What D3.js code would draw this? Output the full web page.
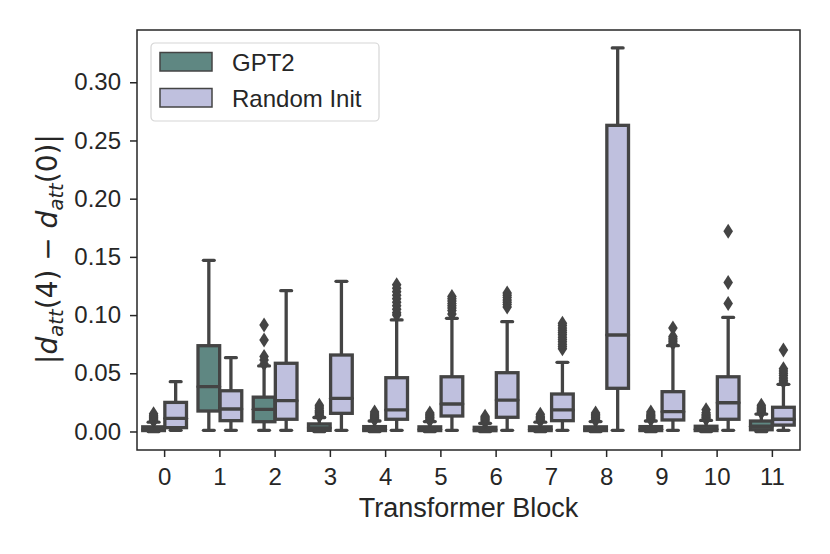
<!DOCTYPE html>
<html>
<head>
<meta charset="utf-8">
<script src="https://cdn.jsdelivr.net/npm/d3@7"></script>
<style>
  body { margin: 0; background: #fff; }
  svg { display: block; }
</style>
</head>
<body>
<div id="chart"></div>
<script>
// ---------------- data ----------------
var blocks = ["0", "1", "2", "3", "4", "5", "6", "7", "8", "9", "10", "11"];
var seriesNames = ["GPT2", "Random Init"];
var yTicks = [0, 0.05, 0.10, 0.15, 0.20, 0.25, 0.30];

// GPT2
var gpt2Q1 = [0.0008, 0.0176, 0.0084, 0.0010, 0.0008, 0.0008, 0.0007, 0.0008, 0.0008, 0.0008, 0.0008, 0.0015];
var gpt2Median = [0.0018, 0.0385, 0.0190, 0.0030, 0.0019, 0.0018, 0.0016, 0.0018, 0.0018, 0.0019, 0.0020, 0.0045];
var gpt2Q3 = [0.0040, 0.0737, 0.0295, 0.0065, 0.0042, 0.0040, 0.0036, 0.0040, 0.0040, 0.0042, 0.0045, 0.0090];
var gpt2Low = [0, 0.001, 0.001, 0, 0, 0, 0, 0, 0, 0, 0, 0];
var gpt2High = [0.0080, 0.1470, 0.0563, 0.0120, 0.0090, 0.0085, 0.0070, 0.0080, 0.0085, 0.0090, 0.0095, 0.0150];
var gpt2Fliers = [
    [0.009, 0.010, 0.011, 0.012, 0.013, 0.014, 0.0153],
    [],
    [0.058, 0.0615, 0.0645, 0.0786, 0.0915],
    [0.013, 0.014, 0.015, 0.016, 0.017, 0.018, 0.0195, 0.021, 0.0225],
    [0.010, 0.011, 0.012, 0.013, 0.014, 0.015, 0.0168],
    [0.0095, 0.0105, 0.0115, 0.0125, 0.0135, 0.0145, 0.0159],
    [0.008, 0.009, 0.010, 0.011, 0.012, 0.013],
    [0.009, 0.010, 0.011, 0.012, 0.013, 0.0148],
    [0.0095, 0.0105, 0.0115, 0.0125, 0.0135, 0.0145, 0.0159],
    [0.010, 0.011, 0.012, 0.013, 0.014, 0.015, 0.0168],
    [0.0105, 0.0115, 0.0125, 0.0135, 0.0145, 0.016, 0.0187],
    [0.016, 0.017, 0.018, 0.019, 0.020, 0.021, 0.0225]
];

// Random Init
var randQ1 = [0.0033, 0.0093, 0.0105, 0.0156, 0.0105, 0.0133, 0.0122, 0.0093, 0.0371, 0.0099, 0.0105, 0.0055];
var randMedian = [0.0113, 0.0193, 0.0265, 0.0285, 0.0185, 0.0236, 0.0270, 0.0185, 0.0829, 0.0170, 0.0247, 0.0105];
var randQ3 = [0.0250, 0.0350, 0.0586, 0.0657, 0.0462, 0.0470, 0.0505, 0.0322, 0.2630, 0.0342, 0.0470, 0.0208];
var randLow = [0.001, 0.001, 0.001, 0.001, 0.001, 0.001, 0.001, 0.001, 0.001, 0.001, 0.001, 0.001];
var randHigh = [0.0428, 0.0634, 0.1210, 0.1290, 0.0958, 0.0972, 0.0943, 0.0594, 0.3295, 0.0737, 0.0980, 0.0405];
var randFliers = [
    [],
    [],
    [],
    [],
    [0.100, 0.102, 0.105, 0.108, 0.111, 0.114, 0.117, 0.120, 0.123, 0.126],
    [0.101, 0.104, 0.106, 0.108, 0.110, 0.112, 0.114, 0.116],
    [0.107, 0.109, 0.111, 0.113, 0.115, 0.117, 0.119],
    [0.071, 0.073, 0.075, 0.077, 0.079, 0.081, 0.083, 0.085, 0.087, 0.089, 0.091, 0.093],
    [],
    [0.0755, 0.077, 0.0785, 0.080, 0.0815, 0.089],
    [0.110, 0.128, 0.172],
    [0.0425, 0.044, 0.046, 0.048, 0.050, 0.052, 0.054, 0.070]
];

// ---------------- layout / style ----------------
var width = 830;
var height = 554;
var margin = { top: 30, right: 30, bottom: 104, left: 137 };

var colors = ["#5f8782", "#bfc0de"];
var lineColor = "#444444";
var axisColor = "#262626";
var fontFamily = "'Liberation Sans', Arial, sans-serif";
var lw = 3.3;

// build records for every box
var boxPlotData = [];
blocks.forEach(function (b, i) {
    boxPlotData.push({ key: b, series: 0, q1: gpt2Q1[i], median: gpt2Median[i], q3: gpt2Q3[i],
        low: gpt2Low[i], high: gpt2High[i], fliers: gpt2Fliers[i] });
    boxPlotData.push({ key: b, series: 1, q1: randQ1[i], median: randMedian[i], q3: randQ3[i],
        low: randLow[i], high: randHigh[i], fliers: randFliers[i] });
});

var xScale = d3.scaleBand()
    .domain(blocks)
    .range([margin.left, width - margin.right])
    .padding(0);

var yScale = d3.scaleLinear()
    .domain([-0.0159, 0.3449])
    .range([height - margin.bottom, margin.top]);

var bw = xScale.bandwidth();
var boxWidth = bw * 0.392;
var capWidth = boxWidth * 0.5;

function boxCenter(d) {
    return xScale(d.key) + bw / 2 + (d.series === 0 ? -0.2 : 0.2) * bw;
}

var svg = d3.select("#chart").append("svg")
    .attr("width", width)
    .attr("height", height);

var g = svg.append("g");

// whiskers
g.selectAll(".whisker")
    .data(boxPlotData)
    .enter()
    .append("line")
    .attr("x1", boxCenter)
    .attr("x2", boxCenter)
    .attr("y1", function (d) { return yScale(d.low); })
    .attr("y2", function (d) { return yScale(d.high); })
    .attr("stroke", lineColor)
    .attr("stroke-width", lw);

// boxes
g.selectAll(".box")
    .data(boxPlotData)
    .enter()
    .append("rect")
    .attr("x", function (d) { return boxCenter(d) - boxWidth / 2; })
    .attr("y", function (d) { return yScale(d.q3); })
    .attr("width", boxWidth)
    .attr("height", function (d) { return yScale(d.q1) - yScale(d.q3); })
    .attr("fill", function (d) { return colors[d.series]; })
    .attr("stroke", lineColor)
    .attr("stroke-width", lw);

// medians + caps
var horizontalLineConfigs = [
    { v: function (d) { return d.median; }, w: boxWidth },
    { v: function (d) { return d.low; }, w: capWidth },
    { v: function (d) { return d.high; }, w: capWidth }
];
horizontalLineConfigs.forEach(function (cfg) {
    g.selectAll(null)
        .data(boxPlotData)
        .enter()
        .append("line")
        .attr("x1", function (d) { return boxCenter(d) - cfg.w / 2; })
        .attr("x2", function (d) { return boxCenter(d) + cfg.w / 2; })
        .attr("y1", function (d) { return yScale(cfg.v(d)); })
        .attr("y2", function (d) { return yScale(cfg.v(d)); })
        .attr("stroke", lineColor)
        .attr("stroke-width", lw)
        .attr("stroke-linecap", "round");
});

// fliers (thin diamonds)
var flierData = [];
boxPlotData.forEach(function (d) {
    d.fliers.forEach(function (f) {
        flierData.push({ key: d.key, series: d.series, value: f });
    });
});
g.selectAll(".flier")
    .data(flierData)
    .enter()
    .append("path")
    .attr("d", "M0,-7.5L4.8,0L0,7.5L-4.8,0Z")
    .attr("transform", function (d) {
        return "translate(" + boxCenter(d) + "," + yScale(d.value) + ")";
    })
    .attr("fill", lineColor);

//---------------------------------- axes
var axisLeft = d3.axisLeft(yScale)
    .tickValues(yTicks)
    .tickFormat(d3.format(".2f"))
    .tickSize(7)
    .tickPadding(9);
var yAxisG = svg.append("g")
    .attr("transform", "translate(" + margin.left + ",0)")
    .call(axisLeft);

var axisBottom = d3.axisBottom(xScale)
    .tickSize(7)
    .tickPadding(11);
var xAxisG = svg.append("g")
    .attr("transform", "translate(0," + (height - margin.bottom) + ")")
    .call(axisBottom);

[yAxisG, xAxisG].forEach(function (a) {
    a.select(".domain").remove();
    a.selectAll("line").attr("stroke", axisColor).attr("stroke-width", 1.5);
    a.selectAll("text")
        .attr("fill", axisColor)
        .style("font-family", fontFamily)
        .style("font-size", "24px");
});

// frame
svg.append("rect")
    .attr("x", margin.left)
    .attr("y", margin.top)
    .attr("width", width - margin.left - margin.right)
    .attr("height", height - margin.top - margin.bottom)
    .attr("fill", "none")
    .attr("stroke", axisColor)
    .attr("stroke-width", 1.5);

// axis labels
svg.append("text")
    .attr("x", (margin.left + width - margin.right) / 2)
    .attr("y", 517)
    .attr("text-anchor", "middle")
    .attr("fill", axisColor)
    .style("font-family", fontFamily)
    .style("font-size", "27px")
    .text("Transformer Block");

var yLabel = svg.append("text")
    .attr("transform", "translate(57,249) rotate(-90)")
    .attr("text-anchor", "middle")
    .attr("fill", axisColor)
    .style("font-family", "'DejaVu Sans', sans-serif")
    .style("font-size", "28px");
var parts = [
    { t: "|", it: false, sub: false },
    { t: "d", it: true, sub: false },
    { t: "att", it: true, sub: true },
    { t: "(4) \u2212 ", it: false, sub: false },
    { t: "d", it: true, sub: false },
    { t: "att", it: true, sub: true },
    { t: "(0)|", it: false, sub: false }
];
var prevSub = false;
parts.forEach(function (p) {
    var dy = 0;
    if (p.sub && !prevSub) dy = 6;
    if (!p.sub && prevSub) dy = -6;
    yLabel.append("tspan")
        .attr("dy", dy)
        .style("font-style", p.it ? "italic" : "normal")
        .style("font-size", p.sub ? "19.6px" : "28px")
        .text(p.t);
    prevSub = p.sub;
});

//---------------------------------- legend
var legend = svg.append("g")
    .attr("transform", "translate(151,43)");
legend.append("rect")
    .attr("width", 228)
    .attr("height", 78)
    .attr("rx", 4)
    .attr("fill", "#fff")
    .attr("fill-opacity", 0.8)
    .attr("stroke", "#d6d6d6")
    .attr("stroke-width", 1.2);
seriesNames.forEach(function (name, i) {
    legend.append("rect")
        .attr("x", 9)
        .attr("y", 9.5 + i * 36)
        .attr("width", 52)
        .attr("height", 18.5)
        .attr("fill", colors[i])
        .attr("stroke", lineColor)
        .attr("stroke-width", 1.5);
    legend.append("text")
        .attr("x", 81)
        .attr("y", 27.5 + i * 36)
        .attr("fill", axisColor)
        .style("font-family", fontFamily)
        .style("font-size", "24px")
        .text(name);
});
</script>
</body>
</html>
